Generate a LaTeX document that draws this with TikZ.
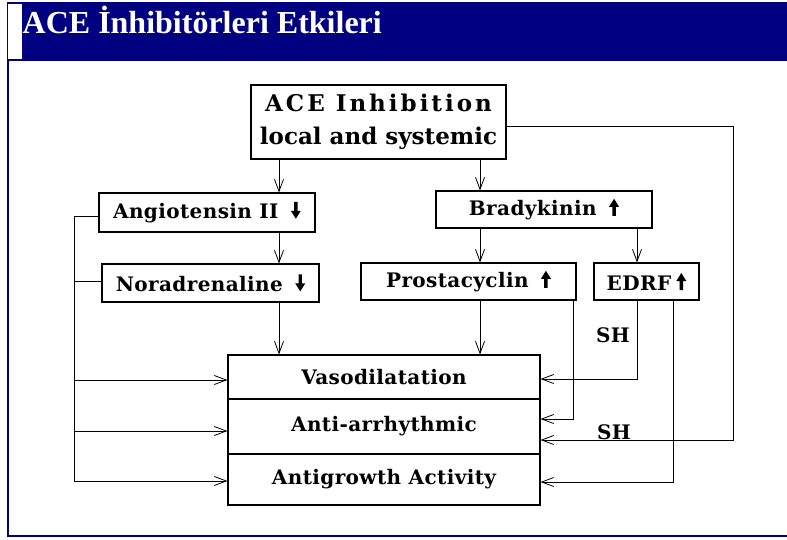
\documentclass[tikz,border=0pt]{standalone}
\usepackage{fontspec}
\usepackage{tikz}
\usetikzlibrary{arrows.meta}
\setmainfont{DejaVu Serif}
\newfontfamily\titlefont{Liberation Serif}
\newfontfamily\boxfont[LetterSpace=2]{DejaVu Serif}
\newfontfamily\acefont[LetterSpace=13]{DejaVu Serif}
\definecolor{slidenavy}{RGB}{0,0,128}
\newcommand{\arrdown}{\hspace{5pt}\tikz[x=1pt,y=1pt,baseline=0pt]\fill (-1.7,17) -- (1.7,17) -- (1.7,8) -- (5,8) -- (0,0) -- (-5,8) -- (-1.7,8) -- cycle;}
\newcommand{\arrup}{\hspace{5pt}\tikz[x=1pt,y=1pt,baseline=0pt]\fill (-1.7,0) -- (1.7,0) -- (1.7,9) -- (5,9) -- (0,17) -- (-5,9) -- (-1.7,9) -- cycle;}
\tikzset{
  box/.style={draw, line width=1.1pt, inner sep=0pt, font=\boxfont\bfseries\fontsize{20}{24}\selectfont},
  link/.style={line width=0.8pt},
  shlabel/.style={inner sep=0pt, font=\boxfont\bfseries\fontsize{20}{22}\selectfont}
}

\begin{document}
\begin{tikzpicture}[x=1pt, y=-1pt, >={Straight Barb[length=12pt,width=9pt]}]
		\useasboundingbox (0,0) rectangle (787,539);
		% slide frame
		\fill[slidenavy] (7,2) rectangle (787,60.5);
		\fill[white] (8.3,4) rectangle (21.7,59);
		\fill[slidenavy] (7,60) rectangle (8.5,537);
		\fill[slidenavy] (7,535) rectangle (787,537);
		\node[anchor=base west, text=white, inner sep=0pt, font=\titlefont\bfseries\fontsize{32}{36}\selectfont] (title) at (22.5,33) {ACE İnhibitörleri Etkileri};

		\draw (378.5,122) node[box, minimum width=255pt, minimum height=74pt, align=center, font=\bfseries\fontsize{23}{33}\selectfont] (ace) {{\acefont ACE Inhibition}\\local and systemic}
		(207,212.5) node[box, minimum width=216pt, minimum height=39pt] (ang) {Angiotensin II \arrdown}
		(210.5,283) node[box, minimum width=217pt, minimum height=38pt] (nor) {Noradrenaline \arrdown}
		(544,209.5) node[box, minimum width=216pt, minimum height=37pt] (bra) {Bradykinin \arrup}
		(468.5,281.5) node[box, minimum width=215pt, minimum height=37pt] (pro) {Prostacyclin \arrup}
		(646.5,281.5) node[box, minimum width=105pt, minimum height=37pt] (edrf) {EDRF\arrup}
		(384,377) node[box, minimum width=312pt, minimum height=44pt] (vaso) {Vasodilatation}
		(384,426.5) node[box, minimum width=312pt, minimum height=55pt] (anti) {Anti-arrhythmic}
		(384,479.5) node[box, minimum width=312pt, minimum height=51pt] (grow) {Antigrowth Activity};

		\node[shlabel] (sh1) at (613,335) {SH};
		\node[shlabel] (sh2) at (614,432) {SH};

		\coordinate (colA) at (279,0);
		\coordinate (colB) at (480,0);
		\coordinate (colC) at (637,0);
		\coordinate (colL) at (74,0);
		\coordinate (colP) at (573,0);
		\coordinate (colE) at (673,0);
		\coordinate (colR) at (733,0);

		\draw[link,->] (ace.south -| colA) -- (ang.north -| colA);
		\draw[link,->] (ang.south -| colA) -- (nor.north -| colA);
		\draw[link,->] (nor.south -| colA) -- (vaso.north -| colA);
		\draw[link,->] (ace.south -| colB) -- (bra.north -| colB);
		\draw[link,->] (bra.south -| colB) -- (pro.north -| colB);
		\draw[link,->] (pro.south -| colB) -- (vaso.north -| colB);
		\draw[link,->] (bra.south -| colC) -- (edrf.north -| colC);

		% left side
		\draw[link,->] ([yshift=-3.5pt]ang.west) -- ([yshift=-3.5pt]ang.west -| colL) -- ([yshift=-1.5pt]grow.west -| colL) -- ([yshift=-1.5pt]grow.west);
		\draw[link] ([yshift=2pt]nor.west) -- ([yshift=2pt]nor.west -| colL);
		\draw[link,->] ([yshift=-3pt]vaso.west -| colL) -- ([yshift=-3pt]vaso.west);
		\draw[link,->] ([yshift=-4.5pt]anti.west -| colL) -- ([yshift=-4.5pt]anti.west);

		% right side
		\draw[link,->] (edrf.south -| colC) -- ([yshift=-2pt]vaso.east -| colC) -- ([yshift=-2pt]vaso.east);
		\draw[link,->] (pro.south -| colP) -- ([yshift=7.5pt]anti.east -| colP) -- ([yshift=7.5pt]anti.east);
		\draw[link,->] (edrf.south -| colE) -- ([yshift=-2.5pt]grow.east -| colE) -- ([yshift=-2.5pt]grow.east);
		\draw[link,->] ([yshift=-4pt]ace.east) -- ([yshift=-4pt]ace.east -| colR) -- ([yshift=-13.5pt]anti.east -| colR) -- ([yshift=-13.5pt]anti.east);
	\end{tikzpicture}
\end{document}
